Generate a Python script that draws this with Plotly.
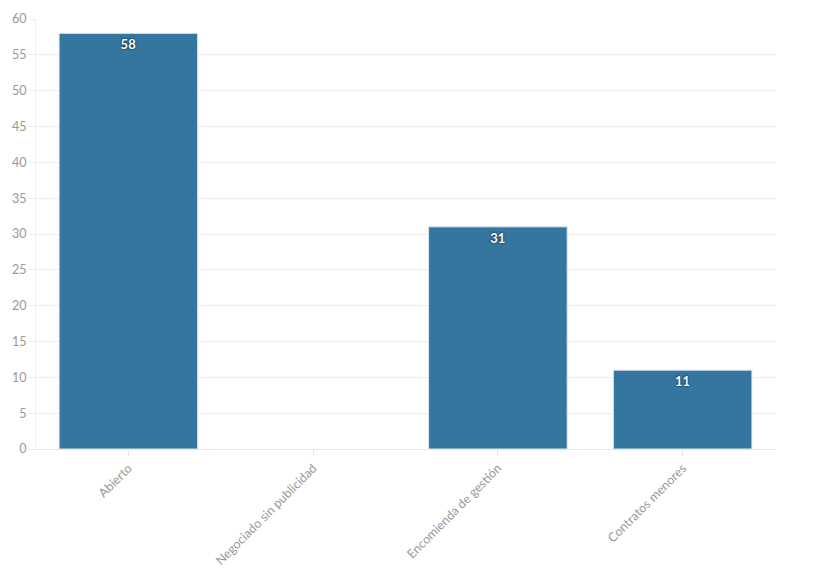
import plotly.graph_objects as go

categories = ["Abierto", "Negociado sin publicidad", "Encomienda de gestión", "Contratos menores"]
values = [58, 0, 31, 11]

fig = go.Figure(
    go.Bar(
        x=categories,
        y=values,
        text=[str(v) if v else "" for v in values],
        textposition="inside",
        insidetextanchor="end",
        textangle=0,
        textfont=dict(color="white", size=13, family="Lato", weight="bold",
                      shadow="0px 0px 2px #000"),
        marker=dict(
            color="rgb(52,118,160)",
            line=dict(color="#dbe6ee", width=[1 if v else 0 for v in values]),
        ),
        hovertemplate="%{x}: %{y}<extra></extra>",
    )
)

# page body adds ~8px margin, so the figure is a bit smaller than the window
fig.update_layout(
    width=812,
    height=567,
    bargap=0.25,
    plot_bgcolor="white",
    paper_bgcolor="white",
    showlegend=False,
    font=dict(family="Lato", size=12, color="#999999"),
    margin=dict(l=28, r=45, t=11, b=126),
    xaxis=dict(
        tickangle=-45,
        showgrid=False,
        showline=True,
        linecolor="#e6e6e6",
        ticks="outside",
        ticklen=6,
        tickcolor="#e6e6e6",
        range=[-0.5, 3.5],
        automargin=False,
        tickfont=dict(size=12.5, color="#999999"),
    ),
    yaxis=dict(
        range=[0, 60],
        dtick=5,
        gridcolor="#ececec",
        zeroline=False,
        showline=True,
        linecolor="#f0f0f0",
        ticks="outside",
        ticklen=6,
        tickcolor="#ececec",
        automargin=False,
        tickfont=dict(size=12.5, color="#999999"),
    ),
)

fig.write_html("out.html")
